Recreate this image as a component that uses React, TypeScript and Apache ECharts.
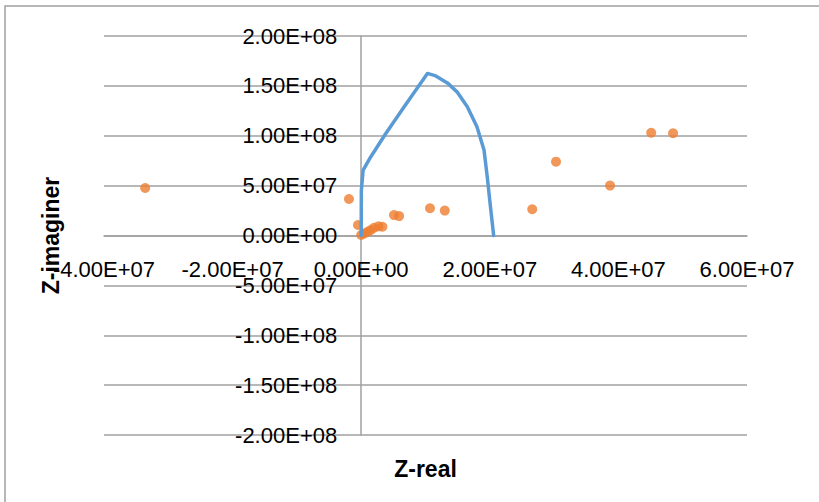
import React, { useEffect, useRef } from "react";
import * as echarts from "echarts";

const lineReal = [0, 0.002e7, 0.03e7, 0.15e7, 0.38e7, 0.69e7, 1.03e7, 1.16e7, 1.34e7, 1.49e7, 1.65e7, 1.8e7, 1.91e7, 1.96e7, 2.01e7, 2.06e7];
const lineImag = [0, 4.5e7, 6.56e7, 7.9e7, 10.2e7, 13.1e7, 16.25e7, 16.0e7, 15.3e7, 14.4e7, 12.9e7, 10.9e7, 8.57e7, 5.9e7, 2.9e7, 0];

const scatterReal = [-3.36e7, -0.19e7, -0.05e7, 0, 0.05e7, 0.1e7, 0.15e7, 0.2e7, 0.27e7, 0.33e7, 0.51e7, 0.59e7, 1.07e7, 1.3e7, 2.66e7, 3.03e7, 3.87e7, 4.51e7, 4.85e7];
const scatterImag = [4.76e7, 3.66e7, 1.05e7, 0.05e7, 0.2e7, 0.38e7, 0.55e7, 0.78e7, 0.92e7, 0.88e7, 2.05e7, 1.95e7, 2.73e7, 2.5e7, 2.63e7, 7.4e7, 5.0e7, 10.3e7, 10.25e7];

const xTicks = { min: -4e7, max: 6e7, interval: 2e7 };
const yTicks = { min: -2e8, max: 2e8, interval: 5e7 };

function sci(v: number): string {
  if (v === 0) return "0.00E+00";
  const exp = Math.floor(Math.log10(Math.abs(v)) + 1e-9);
  const mant = v / Math.pow(10, exp);
  const e = Math.abs(exp);
  return mant.toFixed(2) + "E" + (exp >= 0 ? "+" : "-") + (e < 10 ? "0" + e : String(e));
}

const FONT = "'Liberation Sans', Arial, sans-serif";
const GRID = "#a0a0a0";

const GRID_LEFT = 104;
const GRID_RIGHT = 72;
const GRID_TOP = 36;
const GRID_BOTTOM = 67;
const W = 819;
const H = 502;

export default function App() {
  const ref = useRef<HTMLDivElement>(null);
  useEffect(() => {
    if (!ref.current) return;
    const chart = echarts.init(ref.current, undefined, { renderer: "svg" });
    const plotW = W - GRID_LEFT - GRID_RIGHT;
    const plotH = H - GRID_TOP - GRID_BOTTOM;
    const yAxisShift = ((0 - xTicks.min) / (xTicks.max - xTicks.min)) * plotW;
    const xAxisShift = ((0 - yTicks.min) / (yTicks.max - yTicks.min)) * plotH;
    chart.setOption({
      animation: false,
      backgroundColor: "#ffffff",
      textStyle: { fontFamily: FONT },
      graphic: [
        {
          type: "rect",
          shape: { x: 5, y: 6, width: 840, height: 520 },
          style: { fill: "none", stroke: GRID, lineWidth: 1.5 },
          silent: true,
        },
      ],
      grid: {
        left: GRID_LEFT,
        right: GRID_RIGHT,
        top: GRID_TOP,
        bottom: GRID_BOTTOM,
        containLabel: false,
        outerBoundsMode: "none",
      },
      xAxis: {
        type: "value",
        position: "bottom",
        offset: -xAxisShift,
        min: xTicks.min,
        max: xTicks.max,
        interval: xTicks.interval,
        name: "Z-real",
        nameLocation: "middle",
        nameGap: 222,
        nameTextStyle: { fontFamily: FONT, fontSize: 23, fontWeight: "bold", color: "#000" },
        axisLine: { show: true, onZero: false, lineStyle: { color: GRID, width: 1.5 } },
        axisTick: { show: false },
        splitLine: { show: false },
        axisLabel: {
          formatter: (v: number) => sci(v),
          fontFamily: FONT,
          fontSize: 22,
          color: "#000",
          margin: 23,
          hideOverlap: false,
        },
      },
      yAxis: {
        type: "value",
        position: "left",
        offset: -yAxisShift,
        min: yTicks.min,
        max: yTicks.max,
        interval: yTicks.interval,
        name: "Z-imaginer",
        nameLocation: "middle",
        nameGap: 299,
        nameRotate: 90,
        nameTextStyle: { fontFamily: FONT, fontSize: 23, fontWeight: "bold", color: "#000" },
        axisLine: { show: true, onZero: false, lineStyle: { color: GRID, width: 1.5 } },
        axisTick: { show: false },
        splitLine: { show: true, lineStyle: { color: GRID, width: 1.5 } },
        axisLabel: {
          formatter: (v: number) => sci(v),
          fontFamily: FONT,
          fontSize: 22,
          color: "#000",
          margin: 24,
          hideOverlap: false,
        },
      },
      series: [
        {
          type: "line",
          data: lineReal.map((x, i) => [x, lineImag[i]]),
          showSymbol: false,
          lineStyle: { color: "#5B9BD5", width: 3.5, join: "round", cap: "round" },
          itemStyle: { color: "#5B9BD5" },
          z: 3,
        },
        {
          type: "scatter",
          data: scatterReal.map((x, i) => [x, scatterImag[i]]),
          symbol: "circle",
          symbolSize: 10,
          itemStyle: { color: "#ED7D31" },
          z: 2,
        },
      ],
    });
    return () => chart.dispose();
  }, []);
  return (
    <div
      ref={ref}
      style={{ position: "fixed", left: 0, top: 0, width: W, height: H }}
    />
  );
}
